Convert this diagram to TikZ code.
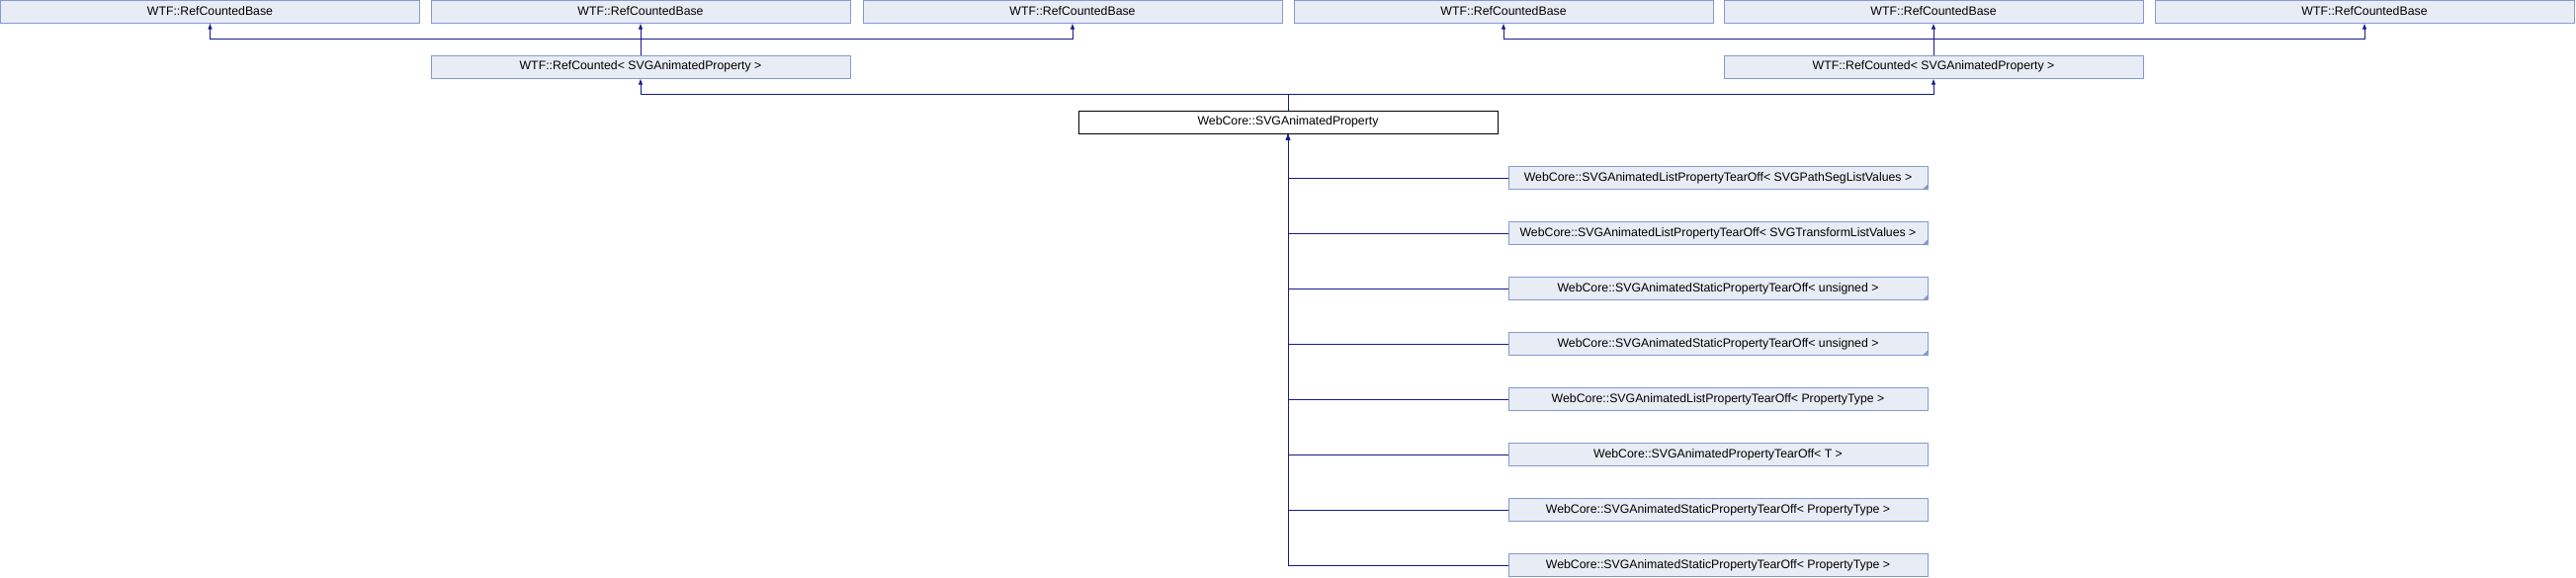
\documentclass[tikz,border=0pt]{standalone}
\usepackage{fontspec}
\setmainfont{Liberation Sans}
\usepackage{tikz}
\usetikzlibrary{arrows.meta, positioning}
\definecolor{edgeblue}{RGB}{25,25,140}
\definecolor{boxfill}{RGB}{232,236,244}
\definecolor{boxline}{RGB}{132,154,208}
\def\boxw{424}
\def\boxh{23}

\begin{document}
\begin{tikzpicture}[x = 1pt, y = -1pt,
    classbox/.style = {draw = boxline, fill = boxfill, line width = 1pt, minimum width = \boxw pt, minimum height = \boxh pt, inner sep = 0pt, font = \fontsize{12.3}{14}\selectfont},
    mainbox/.style = {classbox, draw = black, fill = white},
    edge/.style = {draw = edgeblue, line width = 0.9pt, -{Latex[length = 6pt, width = 4.5pt]}}]
    % Cornice della figura
    \useasboundingbox (0,0) rectangle (2606,584);
    % Prima riga: le basi
    \node[classbox] (base1) at (212.5,11.5){WTF::RefCountedBase};
    \node[classbox] (base2) at (648,11.5){WTF::RefCountedBase};
    \node[classbox] (base3) at (1085,11.5){WTF::RefCountedBase};
    \node[classbox] (base4) at (1521,11.5){WTF::RefCountedBase};
    \node[classbox] (base5) at (1956,11.5){WTF::RefCountedBase};
    \node[classbox] (base6) at (2392,11.5){WTF::RefCountedBase};
    % Seconda riga: RefCounted
    \node[classbox] (refL) at (648,67.5){WTF::RefCounted< SVGAnimatedProperty >};
    \node[classbox] (refR) at (1956,67.5){WTF::RefCounted< SVGAnimatedProperty >};
    % Classe principale
    \node[mainbox] (prop) at (1303,123.5){WebCore::SVGAnimatedProperty};
    % Figli
    \node[classbox] (tearA) at (1738,180){WebCore::SVGAnimatedListPropertyTearOff< SVGPathSegListValues >};
    \node[classbox] (tearB) at (1738,236){WebCore::SVGAnimatedListPropertyTearOff< SVGTransformListValues >};
    \node[classbox] (tearC) at (1738,292){WebCore::SVGAnimatedStaticPropertyTearOff< unsigned >};
    \node[classbox] (tearD) at (1738,348){WebCore::SVGAnimatedStaticPropertyTearOff< unsigned >};
    \node[classbox] (tearE) at (1738,404){WebCore::SVGAnimatedListPropertyTearOff< PropertyType >};
    \node[classbox] (tearF) at (1738,460){WebCore::SVGAnimatedPropertyTearOff< T >};
    \node[classbox] (tearG) at (1738,516){WebCore::SVGAnimatedStaticPropertyTearOff< PropertyType >};
    \node[classbox] (tearH) at (1738,572){WebCore::SVGAnimatedStaticPropertyTearOff< PropertyType >};
    % Triangolini negli angoli
    \fill[boxline] (tearA.south east) -- ++(-6,0) -- ++(6,-6) -- cycle;
    \fill[boxline] (tearB.south east) -- ++(-6,0) -- ++(6,-6) -- cycle;
    \fill[boxline] (tearC.south east) -- ++(-6,0) -- ++(6,-6) -- cycle;
    \fill[boxline] (tearD.south east) -- ++(-6,0) -- ++(6,-6) -- cycle;
    % RefCounted -> RefCountedBase
    \draw[edge] (refL.north) -- (base2.south);
    \draw[edge] (refL.north) -- ++(0,-16) -| (base1.south);
    \draw[edge] (refL.north) -- ++(0,-16) -| (base3.south);
    \draw[edge] (refR.north) -- (base5.south);
    \draw[edge] (refR.north) -- ++(0,-16) -| (base4.south);
    \draw[edge] (refR.north) -- ++(0,-16) -| (base6.south);
    % SVGAnimatedProperty -> RefCounted
    \draw[edge] (prop.north) -- ++(0,-16) -| (refL.south);
    \draw[edge] (prop.north) -- ++(0,-16) -| (refR.south);
    % Figli -> SVGAnimatedProperty
    \draw[edge] (tearA.west) -| (prop.south);
    \draw[edge] (tearB.west) -| (prop.south);
    \draw[edge] (tearC.west) -| (prop.south);
    \draw[edge] (tearD.west) -| (prop.south);
    \draw[edge] (tearE.west) -| (prop.south);
    \draw[edge] (tearF.west) -| (prop.south);
    \draw[edge] (tearG.west) -| (prop.south);
    \draw[edge] (tearH.west) -| (prop.south);
\end{tikzpicture}
\end{document}
